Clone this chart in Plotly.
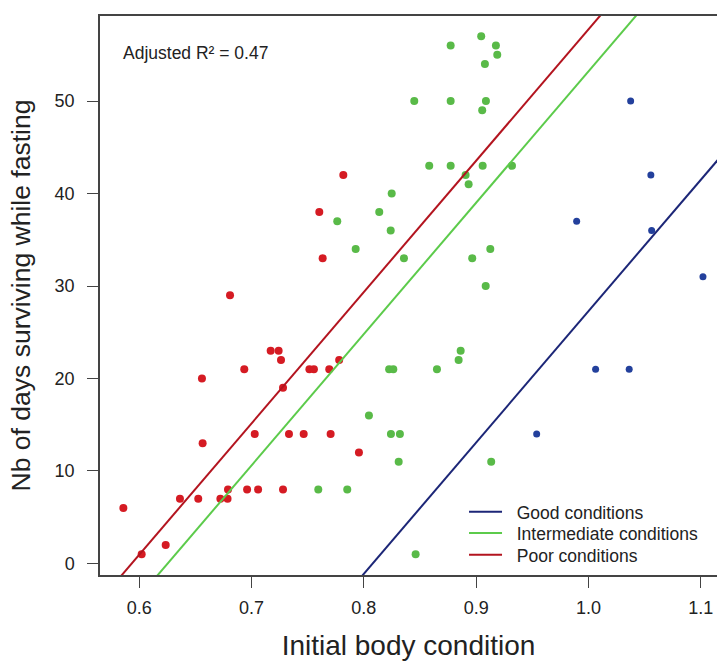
import numpy as np
import plotly.graph_objects as go

# Initial body condition / days surviving
good_x = [1.0376, 1.0556, 0.9895, 1.0563, 1.1020, 1.0064, 1.0363, 0.9539]
good_y = [50, 42, 37, 36, 31, 21, 21, 14]

inter_x = [0.9045, 0.8773, 0.9176, 0.9188, 0.9078, 0.8449, 0.8773, 0.9087,
           0.9054, 0.8582, 0.8773, 0.9058, 0.9319, 0.8906, 0.8933, 0.8248,
           0.8137, 0.7763, 0.8239, 0.7927, 0.9126, 0.8357, 0.8965, 0.9085,
           0.8862, 0.8844, 0.8225, 0.8262, 0.8651, 0.8045, 0.8241, 0.8321,
           0.8310, 0.9134, 0.7594, 0.7852, 0.8461]
inter_y = [57, 56, 56, 55, 54, 50, 50, 50,
           49, 43, 43, 43, 43, 42, 41, 40,
           38, 37, 36, 34, 34, 33, 33, 30,
           23, 22, 21, 21, 21, 16, 14, 14,
           11, 11, 8, 8, 1]

poor_x = [0.7817, 0.7603, 0.7633, 0.6808, 0.7170, 0.7241, 0.7262, 0.7780,
          0.6935, 0.7515, 0.7555, 0.7692, 0.6558, 0.7280, 0.7028, 0.7333,
          0.7464, 0.7704, 0.6564, 0.7956, 0.6790, 0.6960, 0.7058, 0.7280,
          0.6362, 0.6525, 0.6722, 0.6786, 0.5858, 0.6235, 0.6021]
poor_y = [42, 38, 33, 29, 23, 23, 22, 22,
          21, 21, 21, 21, 20, 19, 14, 14,
          14, 14, 13, 12, 8, 8, 8, 8,
          7, 7, 7, 7, 6, 2, 1]

# fitted model: common slope, one x-intercept per group
slope = 142.0
x0_good, x0_inter, x0_poor = 0.8079, 0.6253, 0.5933
r2_text = "Adjusted R² = 0.47"

x_ticks = [0.6, 0.7, 0.8, 0.9, 1.0, 1.1]
x_ticktext = ["0.6", "0.7", "0.8", "0.9", "1.0", "1.1"]
y_ticks = [0, 10, 20, 30, 40, 50]

xline = np.array([0.5, 1.2])
pad = "\u00a0\u00a0"  # gap between legend line and label, as in the R legend

fig = go.Figure()

# points
fig.add_trace(go.Scatter(x=good_x, y=good_y, mode="markers",
                         marker=dict(color="#23409c", size=7), showlegend=False))
fig.add_trace(go.Scatter(x=inter_x, y=inter_y, mode="markers",
                         marker=dict(color="#59ba48", size=8), showlegend=False))
fig.add_trace(go.Scatter(x=poor_x, y=poor_y, mode="markers",
                         marker=dict(color="#d51b23", size=8), showlegend=False))

# regression lines, each in its own legend so the rows sit like the R legend
fig.add_trace(go.Scatter(x=xline, y=slope * (xline - x0_good), mode="lines",
                         line=dict(color="#1c2677", width=2),
                         name=pad + "Good conditions", legend="legend"))
fig.add_trace(go.Scatter(x=xline, y=slope * (xline - x0_inter), mode="lines",
                         line=dict(color="#5ccb4b", width=2),
                         name=pad + "Intermediate conditions", legend="legend2"))
fig.add_trace(go.Scatter(x=xline, y=slope * (xline - x0_poor), mode="lines",
                         line=dict(color="#b3141f", width=2),
                         name=pad + "Poor conditions", legend="legend3"))

fig.add_annotation(x=0.5837, y=55.2, xref="x", yref="y", text=r2_text,
                   showarrow=False, xanchor="left", yanchor="middle",
                   font=dict(size=17.5, color="#222"))

leg = dict(x=0.59, xanchor="left", yanchor="middle", itemwidth=33,
           font=dict(size=17.5), bgcolor="rgba(0,0,0,0)")

fig.update_layout(
    width=717, height=661,
    margin=dict(l=100, r=0, t=16, b=86),
    plot_bgcolor="white", paper_bgcolor="white",
    font=dict(family="Liberation Sans, Arial, sans-serif", color="#222"),
    legend=dict(leg, y=0.113),
    legend2=dict(leg, y=0.075),
    legend3=dict(leg, y=0.036),
    xaxis=dict(range=[0.565, 1.1145], tickvals=x_ticks, ticktext=x_ticktext,
               showgrid=False, zeroline=False, showline=True, mirror=True,
               linecolor="#444", linewidth=1.5, ticks="outside", ticklen=11,
               tickcolor="#444", tickfont=dict(size=18), ticklabelstandoff=5,
               title=dict(text="Initial body condition",
                          font=dict(size=28), standoff=24)),
    yaxis=dict(range=[-1.25, 59.2], tickvals=y_ticks,
               showgrid=False, zeroline=False, showline=True,
               linecolor="#444", linewidth=1.5, ticks="outside", ticklen=11,
               tickcolor="#444", tickfont=dict(size=18), ticklabelstandoff=9,
               title=dict(text="Nb of days surviving while fasting",
                          font=dict(size=26.5), standoff=16)),
)

# drop the page's default body margin so the 717x661 figure fills the window
fig.write_html("out.html", config={"displayModeBar": False},
               post_script="document.body.style.margin='0px';"
                           "document.body.style.overflow='hidden';")
